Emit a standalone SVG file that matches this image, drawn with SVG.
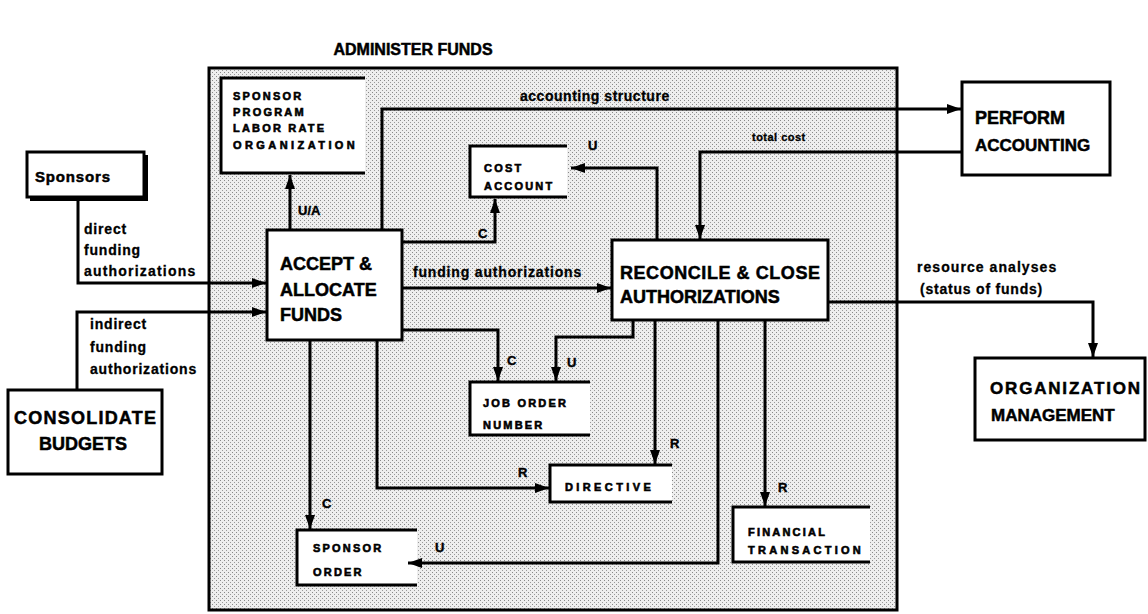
<svg xmlns="http://www.w3.org/2000/svg" width="1148" height="614" viewBox="0 0 1148 614">
<defs>
<pattern id="stip" width="4" height="4" patternUnits="userSpaceOnUse">
<rect width="4" height="4" fill="#eeeeee"/>
<rect x="0" y="0" width="1" height="1" fill="#888"/>
<rect x="2" y="2" width="1" height="1" fill="#999"/>
</pattern>
<marker id="ah" markerUnits="userSpaceOnUse" markerWidth="14" markerHeight="10" refX="14" refY="5" orient="auto">
<path d="M0,0 L14,5 L0,10 z" fill="#000"/>
</marker>
<style>
.box{fill:#fff;stroke:#000;stroke-width:3}
.store{fill:#fff;stroke:none}
.sl{fill:none;stroke:#000;stroke-width:3}
.bt{font-family:"Liberation Sans",Arial,sans-serif;font-weight:bold;font-size:18px;fill:#000;stroke:#000;stroke-width:0.5}
.st{font-family:"Liberation Sans",Arial,sans-serif;font-weight:bold;font-size:11px;letter-spacing:2.2px;fill:#000;stroke:#000;stroke-width:0.6}
.lb{font-family:"Liberation Sans",Arial,sans-serif;font-weight:bold;font-size:14px;letter-spacing:0.8px;fill:#000;stroke:#000;stroke-width:0.3}
.ll{font-family:"Liberation Sans",Arial,sans-serif;font-weight:bold;font-size:13px;fill:#000;stroke:#000;stroke-width:0.4}
.cn{fill:none;stroke:#000;stroke-width:3;marker-end:url(#ah)}
</style>
</defs>
<rect width="1148" height="614" fill="#fff"/>
<text x="413" y="55" text-anchor="middle" style="font-family:'Liberation Sans',Arial,sans-serif;font-weight:bold;font-size:16px;stroke:#000;stroke-width:0.5">ADMINISTER FUNDS</text>

<g id="frame">
<rect x="209" y="68" width="688" height="542" fill="url(#stip)" stroke="#000" stroke-width="3"/>
</g>

<g id="sponsors">
<rect x="30" y="155" width="118" height="46" fill="#000"/>
<rect class="box" x="27" y="152" width="117" height="45"/>
<text class="bt" x="35" y="182" style="font-size:15px" textLength="75" lengthAdjust="spacing">Sponsors</text>
</g>

<g id="consolidate-budgets">
<rect class="box" x="8" y="390" width="154" height="84"/>
<text class="bt" x="85" y="424" text-anchor="middle" textLength="142" lengthAdjust="spacing">CONSOLIDATE</text>
<text class="bt" x="83" y="450" text-anchor="middle">BUDGETS</text>
</g>

<g id="accept-allocate-funds">
<rect class="box" x="267" y="230" width="135" height="110"/>
<text class="bt" x="280" y="270">ACCEPT &amp;</text>
<text class="bt" x="280" y="296">ALLOCATE</text>
<text class="bt" x="280" y="321">FUNDS</text>
</g>

<g id="reconcile-close-authorizations">
<rect class="box" x="612" y="240" width="216" height="80"/>
<text class="bt" x="620" y="279" textLength="200" lengthAdjust="spacing">RECONCILE &amp; CLOSE</text>
<text class="bt" x="620" y="303">AUTHORIZATIONS</text>
</g>

<g id="perform-accounting">
<rect class="box" x="962" y="82" width="148" height="93"/>
<text class="bt" x="975" y="124">PERFORM</text>
<text class="bt" x="975" y="151" style="font-size:17px">ACCOUNTING</text>
</g>

<g id="organization-management">
<rect class="box" x="975" y="358" width="170" height="82"/>
<text class="bt" x="990" y="394" style="font-size:17px" textLength="150" lengthAdjust="spacing">ORGANIZATION</text>
<text class="bt" x="991" y="421" style="font-size:17px">MANAGEMENT</text>
</g>

<g id="store-sponsor-program">
<rect class="store" x="221" y="78" width="144" height="95"/>
<polyline class="sl" points="365,78 221,78 221,173 365,173"/>
<text class="st" x="233" y="100">SPONSOR</text>
<text class="st" x="233" y="116">PROGRAM</text>
<text class="st" x="233" y="132">LABOR RATE</text>
<text class="st" x="233" y="149" textLength="124" lengthAdjust="spacing">ORGANIZATION</text>
</g>

<g id="store-cost-account">
<rect class="store" x="470" y="146" width="97" height="51"/>
<polyline class="sl" points="567,146 470,146 470,197 567,197"/>
<text class="st" x="484" y="172">COST</text>
<text class="st" x="484" y="190">ACCOUNT</text>
</g>

<g id="store-job-order-number">
<rect class="store" x="470" y="382" width="120" height="53"/>
<polyline class="sl" points="590,382 470,382 470,435 590,435"/>
<text class="st" x="483" y="407">JOB ORDER</text>
<text class="st" x="483" y="429">NUMBER</text>
</g>

<g id="store-directive">
<rect class="store" x="550" y="465" width="122" height="37"/>
<polyline class="sl" points="672,465 550,465 550,502 672,502"/>
<text class="st" x="565" y="491" textLength="88" lengthAdjust="spacing">DIRECTIVE</text>
</g>

<g id="store-sponsor-order">
<rect class="store" x="297" y="530" width="120" height="55"/>
<polyline class="sl" points="417,530 297,530 297,585 417,585"/>
<text class="st" x="313" y="552">SPONSOR</text>
<text class="st" x="313" y="576">ORDER</text>
</g>

<g id="store-financial-transaction">
<rect class="store" x="733" y="507" width="137" height="55"/>
<polyline class="sl" points="870,507 733,507 733,562 870,562"/>
<text class="st" x="748" y="536">FINANCIAL</text>
<text class="st" x="748" y="554" textLength="115" lengthAdjust="spacing">TRANSACTION</text>
</g>

<g id="connectors">
<polyline class="cn" points="78,201 78,283 266,283"/>
<polyline class="cn" points="77,389 77,312 266,312"/>
<polyline class="cn" points="290,230 290,175"/>
<polyline class="cn" points="382,230 382,109 961,109"/>
<polyline class="cn" points="962,152 700,152 700,239"/>
<polyline class="cn" points="402,242 495,242 495,199"/>
<polyline class="cn" points="657,240 657,168 571,168"/>
<polyline class="cn" points="402,288 611,288"/>
<polyline class="cn" points="402,330 498,330 498,381"/>
<polyline class="cn" points="633,320 633,337 556,337 556,381"/>
<polyline class="cn" points="310,340 310,529"/>
<polyline class="cn" points="377,340 377,488 549,488"/>
<polyline class="cn" points="655,320 655,464"/>
<polyline class="cn" points="718,320 718,563 408,563"/>
<polyline class="cn" points="765,320 765,506"/>
<polyline class="cn" points="828,302 1093,302 1093,357"/>
<text class="lb" x="520" y="101" textLength="150" lengthAdjust="spacing">accounting structure</text>
<text class="lb" x="752" y="141" textLength="54" lengthAdjust="spacing" style="font-size:11px">total cost</text>
<text class="lb" x="413" y="277" textLength="169" lengthAdjust="spacing">funding authorizations</text>
<text class="lb" x="84" y="234">direct</text>
<text class="lb" x="84" y="255">funding</text>
<text class="lb" x="84" y="276" textLength="112" lengthAdjust="spacing">authorizations</text>
<text class="lb" x="90" y="329">indirect</text>
<text class="lb" x="90" y="352">funding</text>
<text class="lb" x="90" y="374" textLength="107" lengthAdjust="spacing">authorizations</text>
<text class="lb" x="917" y="272" textLength="140" lengthAdjust="spacing">resource analyses</text>
<text class="lb" x="920" y="294" textLength="123" lengthAdjust="spacing">(status of funds)</text>
<text class="ll" x="298" y="215">U/A</text>
<text class="ll" x="478" y="238">C</text>
<text class="ll" x="588" y="150">U</text>
<text class="ll" x="507" y="365">C</text>
<text class="ll" x="567" y="367">U</text>
<text class="ll" x="322" y="508">C</text>
<text class="ll" x="518" y="477">R</text>
<text class="ll" x="670" y="448">R</text>
<text class="ll" x="435" y="552">U</text>
<text class="ll" x="778" y="492">R</text>
</g>
</svg>
